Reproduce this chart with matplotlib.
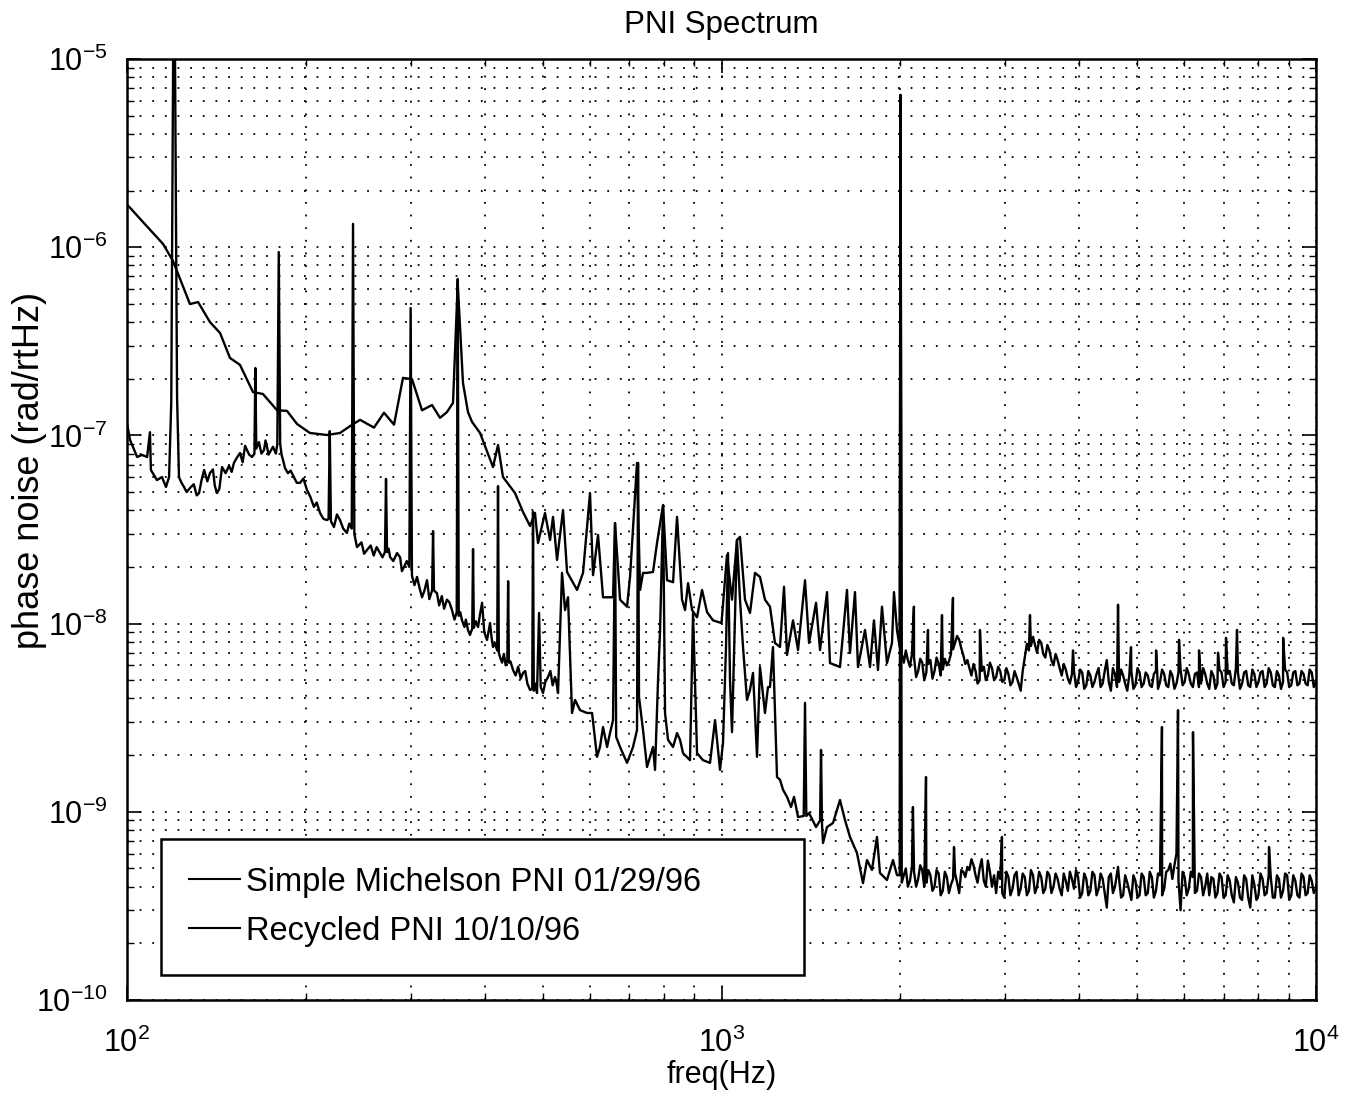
import numpy as np
import matplotlib
matplotlib.use("Agg")
import matplotlib.pyplot as plt
from matplotlib.ticker import FixedLocator, LogFormatterSciNotation, NullFormatter

# ---------------- data (frequency in Hz, phase noise in rad/rtHz) ----------------
title_text = "PNI Spectrum"
x_label = "freq(Hz)"
y_label = "phase noise (rad/rtHz)"
legend_labels = ["Simple Michelson PNI 01/29/96", "Recycled PNI 10/10/96"]
x_decades = [1e2, 1e3, 1e4]
y_decades = [1e-10, 1e-9, 1e-8, 1e-7, 1e-6, 1e-5]

# Simple Michelson PNI 01/29/96 : 100 Hz - 1 kHz
michelson_low = [
    (100, 1.68e-6), (101.2, 1.62e-6), (106.4, 1.36e-6), (115.0, 1.04e-6), (119.5, 8.45e-7),
    (127.6, 4.99e-7), (131.7, 5.11e-7), (137.9, 4.0e-7), (143.4, 3.5e-7), (149.0, 2.58e-7),
    (154.9, 2.37e-7), (162.9, 1.70e-7), (169.3, 1.66e-7), (178.8, 1.36e-7), (185.8, 1.35e-7),
    (193.2, 1.15e-7), (203.1, 1.03e-7), (217.0, 1.005e-7), (228.2, 1.03e-7), (237.2, 1.12e-7),
    (246.6, 1.21e-7), (260.3, 1.10e-7), (270.6, 1.32e-7), (281.3, 1.14e-7), (291.2, 2.02e-7),
    (301.6, 1.99e-7), (313.5, 1.36e-7), (325.9, 1.45e-7), (336.1, 1.24e-7), (345.3, 1.33e-7),
    (353.5, 1.49e-7), (360.0, 6.45e-7), (367.4, 1.90e-7), (374.6, 1.33e-7), (380.5, 1.18e-7),
    (392.5, 1.03e-7), (412.7, 6.79e-8), (420.8, 8.89e-8), (429.0, 6.01e-8), (449.4, 4.94e-8),
    (463.6, 3.92e-8), (476.4, 3.30e-8), (485.6, 3.87e-8), (491.3, 2.68e-8), (504.8, 3.87e-8),
    (514.8, 2.78e-8), (520.7, 3.69e-8), (528.9, 2.18e-8), (541.3, 4.01e-8), (549.8, 1.88e-8),
    (571.5, 1.51e-8), (584.9, 1.86e-8), (600.9, 4.94e-8), (608.0, 1.81e-8), (619.9, 2.96e-8),
    (632.0, 1.38e-8), (657.0, 1.38e-8), (662.1, 3.42e-8), (675.1, 1.34e-8), (693.6, 1.23e-8),
    (701.7, 1.77e-8), (720.9, 7.14e-8), (729.5, 1.51e-8), (737.9, 1.86e-8), (749.4, 1.86e-8),
    (767.0, 1.88e-8), (779.0, 2.68e-8), (797.4, 4.27e-8), (809.8, 1.70e-8), (828.9, 1.66e-8),
    (841.8, 3.69e-8), (858.3, 1.34e-8), (868.3, 1.18e-8), (878.5, 1.64e-8), (892.2, 1.18e-8),
    (909.6, 1.08e-8), (927.4, 1.51e-8), (945.6, 1.15e-8), (967.8, 1.04e-8),
]

# Simple Michelson : 1 kHz - 2 kHz
michelson_mid = [
    (1000, 1.007e-8), (1021.5, 2.31e-8), (1041.5, 1.34e-8), (1061.8, 2.78e-8), (1074.3, 2.89e-8),
    (1095.3, 1.34e-8), (1116.7, 1.14e-8), (1138.5, 1.86e-8), (1160.8, 1.77e-8), (1183.4, 1.34e-8),
    (1206.6, 1.23e-8), (1230.3, 7.89e-9), (1254.3, 7.51e-9), (1274.0, 1.57e-8), (1288.9, 6.81e-9),
    (1319.2, 1.04e-8), (1345.0, 7.24e-9), (1381.9, 1.70e-8), (1403.5, 7.89e-9), (1442.1, 1.29e-8),
    (1464.6, 7.24e-9), (1504.9, 1.47e-8), (1522.3, 6.17e-9), (1582.4, 5.88e-9), (1625.8, 1.51e-8),
    (1644.8, 6.98e-9), (1677.0, 1.47e-8), (1696.6, 5.88e-9), (1743.2, 9.25e-9), (1777.4, 5.88e-9),
    (1805.0, 1.04e-8), (1833.2, 5.67e-9), (1861.8, 1.23e-8), (1898.2, 6.17e-9), (1935.4, 7.89e-9),
    (1950.4, 1.47e-8), (1973.2, 9.25e-9), (1994.0, 7.5e-9),
]

# frequency grids of the high-frequency noise floor (2 kHz - 10 kHz)
floor_freq = [
    2010, 2042, 2075, 2108, 2142, 2176, 2211, 2246, 2282, 2319, 2356, 2394, 2432, 2471, 2511,
    2551, 2592, 2633, 2675, 2718, 2762, 2806, 2851, 2897, 2943, 2990, 3038, 3087, 3136, 3186,
    3237, 3289, 3342, 3395, 3450, 3505, 3561, 3618, 3676, 3735, 3794, 3855, 3917, 3979, 4043,
    4108, 4173, 4240, 4308, 4377, 4447, 4518, 4590, 4664, 4738, 4814, 4891, 4969, 5049, 5130,
    5212, 5295, 5380, 5466, 5554, 5643, 5733, 5825, 5918, 6013, 6109, 6207, 6306, 6407, 6510,
    6614, 6720, 6827, 6936, 7047, 7160, 7275, 7391, 7510, 7630, 7752, 7876, 8002, 8130, 8260,
    8393, 8527, 8663, 8802, 8943, 9086, 9231, 9379, 9529, 9681, 9836, 9994,
]
floor_freq_b = [
    2026, 2058, 2091, 2125, 2159, 2193, 2228, 2264, 2300, 2337, 2375, 2413, 2452, 2491, 2531,
    2571, 2612, 2654, 2696, 2740, 2784, 2828, 2874, 2920, 2966, 3014, 3062, 3111, 3161, 3211,
    3263, 3315, 3368, 3422, 3477, 3533, 3589, 3647, 3705, 3764, 3825, 3886, 3948, 4011, 4075,
    4140, 4206, 4274, 4342, 4412, 4482, 4554, 4627, 4701, 4776, 4852, 4930, 5009, 5089, 5171,
    5253, 5337, 5423, 5510, 5598, 5688, 5779, 5871, 5965, 6061, 6158, 6256, 6356, 6458, 6562,
    6667, 6773, 6881, 6991, 7103, 7217, 7333, 7450, 7570, 7691, 7814, 7939, 8066, 8195, 8326,
    8460, 8595, 8732, 8872, 9014, 9158, 9305, 9454, 9605, 9758, 9915,
]
michelson_floor = [
    6.9e-9, 7.2e-9, 5.9e-9, 6.6e-9, 5.6e-9, 6.2e-9, 5.5e-9, 6.4e-9, 5.6e-9, 6.1e-9, 5.7e-9, 6.0e-9,
    6.9e-9, 7.9e-9, 8.2e-9, 6.8e-9, 6.4e-9, 5.3e-9, 5.6e-9, 5.0e-9, 5.9e-9, 5.3e-9, 5.8e-9, 5.2e-9,
    5.6e-9, 5.0e-9, 5.4e-9, 4.9e-9, 5.2e-9, 4.4e-9, 6.6e-9, 7.2e-9, 8.5e-9, 7.0e-9, 7.9e-9, 6.6e-9,
    7.2e-9, 6.0e-9, 6.4e-9, 5.3e-9, 5.7e-9, 4.8e-9, 5.6e-9, 4.9e-9, 5.5e-9, 4.7e-9, 5.3e-9, 4.9e-9,
    5.8e-9, 4.8e-9, 6.4e-9, 4.4e-9, 5.4e-9, 4.9e-9, 5.3e-9, 4.4e-9, 5.6e-9, 4.7e-9, 5.5e-9, 4.8e-9,
    5.3e-9, 4.6e-9, 5.6e-9, 4.9e-9, 5.4e-9, 4.6e-9, 5.3e-9, 4.8e-9, 5.7e-9, 4.9e-9, 5.4e-9, 4.6e-9,
    5.5e-9, 4.8e-9, 5.4e-9, 4.5e-9, 5.3e-9, 4.8e-9, 5.5e-9, 4.9e-9, 5.6e-9, 4.7e-9, 5.5e-9, 4.8e-9,
    5.6e-9, 4.6e-9, 5.4e-9, 4.9e-9, 5.6e-9, 4.8e-9, 5.5e-9, 4.6e-9, 5.3e-9, 4.9e-9, 5.5e-9, 4.7e-9,
    5.6e-9, 4.8e-9, 5.4e-9, 4.7e-9, 5.5e-9, 4.9e-9,
]
michelson_floor_b = [
    6.2e-9, 6.4e-9, 6.9e-9, 5.2e-9, 6.5e-9, 5.0e-9, 6.1e-9, 5.1e-9, 6.6e-9, 5.3e-9, 6.5e-9, 6.3e-9,
    7.3e-9, 8.6e-9, 7.4e-9, 6.1e-9, 5.8e-9, 6.1e-9, 4.8e-9, 5.6e-9, 5.0e-9, 6.2e-9, 5.0e-9, 5.9e-9,
    4.9e-9, 5.8e-9, 4.7e-9, 5.6e-9, 4.8e-9, 5.6e-9, 7.8e-9, 7.6e-9, 7.7e-9, 8.2e-9, 6.9e-9, 7.7e-9,
    6.4e-9, 6.9e-9, 5.8e-9, 6.1e-9, 5.1e-9, 5.4e-9, 4.6e-9, 5.7e-9, 4.5e-9, 5.6e-9, 4.6e-9, 5.4e-9,
    4.6e-9, 5.6e-9, 4.9e-9, 5.8e-9, 4.6e-9, 5.7e-9, 4.8e-9, 5.3e-9, 4.5e-9, 5.8e-9, 4.6e-9, 5.5e-9,
    4.7e-9, 5.4e-9, 4.5e-9, 5.7e-9, 4.7e-9, 5.6e-9, 4.5e-9, 5.5e-9, 4.7e-9, 5.8e-9, 4.8e-9, 5.4e-9,
    4.6e-9, 5.8e-9, 4.8e-9, 5.6e-9, 4.5e-9, 5.7e-9, 4.6e-9, 5.4e-9, 4.8e-9, 5.8e-9, 4.5e-9, 5.5e-9,
    4.7e-9, 5.7e-9, 4.6e-9, 5.5e-9, 4.6e-9, 5.8e-9, 4.7e-9, 5.6e-9, 4.5e-9, 5.7e-9, 4.6e-9, 5.5e-9,
    4.7e-9, 5.6e-9, 4.8e-9, 5.7e-9, 4.6e-9,
]
michelson_lines = [
    (2000, 6.44e-6), (2107, 1.23e-8), (2225, 9.25e-9), (2349, 1.11e-8), (2451, 1.37e-8),
    (2721, 9.25e-9), (3303, 1.11e-8), (3902, 7.2e-9), (4645, 1.26e-8), (4885, 7.5e-9),
    (5383, 7.2e-9), (5883, 8.2e-9), (6357, 7.2e-9), (6842, 7.0e-9), (7057, 8.4e-9),
    (7364, 9.25e-9), (8805, 8.4e-9),
]

# Recycled PNI 10/10/96 : 100 Hz - 300 Hz
recycled_low = [
    (100, 1.16e-7), (101.2, 9.45e-8), (104.0, 7.68e-8), (106.0, 7.87e-8), (108.1, 7.68e-8),
    (109.3, 1.04e-7), (109.7, 6.55e-8), (112.3, 5.79e-8), (114.5, 6.01e-8), (116.3, 5.32e-8),
    (117.7, 6.01e-8), (118.7, 1.5e-7), (119.6, 1.2e-5), (120.4, 1.2e-5), (121.4, 1.6e-7),
    (122.3, 6.01e-8), (124.7, 5.32e-8), (127.6, 5.25e-8), (132.2, 4.94e-8), (134.8, 6.55e-8),
    (137.9, 6.31e-8), (141.7, 4.94e-8), (144.5, 6.79e-8), (151.3, 7.14e-8), (154.9, 8.06e-8),
    (159.2, 8.36e-8), (162.3, 7.68e-8), (163.8, 8.0e-8), (164.4, 2.28e-7), (165.0, 8.5e-8),
    (166.7, 9.22e-8), (170.0, 8.36e-8), (172.0, 8.68e-8), (174.0, 8.16e-8), (178.0, 8.0e-8),
    (179.0, 9.0e-8), (180.0, 9.43e-7), (181.0, 9.0e-8), (182.0, 7.87e-8), (184.4, 6.71e-8),
    (190.9, 6.01e-8), (195.4, 5.59e-8), (200.8, 5.13e-8), (206.3, 4.17e-8), (211.2, 3.87e-8),
    (217.0, 3.55e-8), (218.3, 3.6e-8), (219.3, 1.055e-7), (220.3, 3.5e-8), (222.9, 3.26e-8),
    (228.2, 3.55e-8), (234.4, 3.03e-8), (238.8, 3.2e-8), (240.0, 1.33e-6), (241.2, 3.0e-8),
    (243.7, 2.55e-8), (253.3, 2.46e-8), (266.5, 2.37e-8), (271.6, 2.4e-8), (272.7, 5.87e-8),
    (273.8, 2.4e-8), (277.0, 2.26e-8), (284.6, 2.37e-8), (292.4, 2.00e-8), (298.5, 2.0e-8),
    (300.0, 4.75e-7), (301.5, 1.8e-8),
]
# fine ripple of the recycled trace between the lines, 120 Hz - 560 Hz
recycled_ripple = [
    (123.5, 5.6e-8), (126.0, 5.0e-8), (129.5, 5.5e-8), (131.0, 4.8e-8), (133.5, 5.8e-8),
    (136.5, 5.7e-8), (139.5, 6.6e-8), (140.5, 5.4e-8), (143.0, 5.2e-8), (146.5, 6.3e-8),
    (148.5, 6.9e-8), (150.0, 6.4e-8), (153.0, 7.6e-8), (156.5, 7.2e-8), (158.0, 8.8e-8),
    (160.5, 7.9e-8), (168.3, 8.0e-8), (171.0, 9.4e-8), (173.0, 7.9e-8), (176.0, 8.7e-8),
    (183.2, 7.3e-8), (186.5, 6.3e-8), (188.5, 6.5e-8), (193.0, 5.6e-8), (198.0, 5.9e-8),
    (203.5, 4.7e-8), (208.5, 4.4e-8), (214.0, 3.6e-8), (225.5, 3.8e-8), (231.0, 3.2e-8),
    (236.5, 3.4e-8), (248.0, 2.7e-8), (250.5, 2.35e-8), (257.0, 2.6e-8), (260.0, 2.3e-8),
    (263.0, 2.55e-8), (269.0, 2.25e-8), (275.5, 2.5e-8), (280.5, 2.15e-8), (288.0, 2.25e-8),
    (290.0, 1.9e-8), (295.5, 2.15e-8), (304.5, 1.6e-8), (310.5, 1.55e-8), (316.5, 1.5e-8),
    (322.5, 1.35e-8), (335.0, 1.25e-8), (338.5, 1.4e-8), (341.5, 1.2e-8), (348.5, 1.3e-8),
    (355.5, 1.05e-8), (363.5, 1.15e-8), (369.5, 9.6e-9), (371.5, 1.05e-8), (377.5, 8.7e-9),
    (386.0, 1.03e-8), (392.5, 1.12e-8), (399.0, 9.0e-9), (405.5, 9.0e-9), (410.5, 8.4e-9),
    (415.5, 7.9e-9), (427.5, 6.2e-9), (430.5, 6.9e-9), (433.5, 6.0e-9), (441.5, 6.3e-9),
    (450.5, 5.3e-9), (455.0, 5.9e-9), (459.5, 5.1e-9), (467.5, 5.6e-9), (471.5, 4.8e-9),
    (486.5, 4.8e-9), (496.5, 4.6e-9), (505.5, 4.9e-9), (515.5, 5.6e-9), (520.0, 4.7e-9),
    (527.5, 4.9e-9),
]

# Recycled : 300 Hz - 1.2 kHz
recycled_mid = [
    (307.5, 1.77e-8), (313.5, 1.38e-8), (319.6, 1.70e-8), (326.0, 1.5e-8), (327.2, 3.10e-8),
    (328.4, 1.5e-8), (332.2, 1.45e-8), (345.3, 1.34e-8), (352.1, 1.18e-8), (358.6, 1.15e-8),
    (360.0, 6.78e-7), (361.4, 1.1e-8), (366.0, 1.04e-8), (374.6, 9.25e-9), (380.8, 9.4e-9),
    (382.0, 2.49e-8), (383.2, 9.5e-9), (389.5, 9.59e-9), (395.6, 1.29e-8), (403.2, 8.18e-9),
    (408.0, 1.007e-8), (412.7, 7.51e-9), (419.5, 7.2e-9), (420.8, 5.38e-8), (422.1, 7.0e-9),
    (424.1, 6.64e-9), (436.3, 6.4e-9), (437.6, 1.68e-8), (438.9, 6.2e-9), (446.0, 5.67e-9),
    (463.6, 5.47e-9), (476.4, 4.44e-9), (480.5, 4.5e-9), (481.9, 3.92e-8), (483.3, 4.4e-9),
    (489.4, 4.28e-9), (493.3, 1.14e-8), (500.9, 4.28e-9), (510.7, 5.20e-9), (524.8, 5.20e-9),
    (530.9, 4.28e-9), (539.2, 1.86e-8), (545.5, 1.18e-8), (551.9, 1.38e-8), (560.5, 3.35e-9),
    (567.1, 3.93e-9), (578.1, 3.47e-9), (594.0, 3.35e-9), (605.7, 3.35e-9), (617.5, 1.96e-9),
    (624.6, 2.21e-9), (632.0, 2.82e-9), (642.0, 2.21e-9), (649.3, 2.62e-9), (657.0, 3.07e-9),
    (662.1, 3.42e-8), (665.0, 2.5e-9), (675.1, 2.21e-9), (693.6, 1.82e-9), (709.9, 2.21e-9),
    (720.9, 2.72e-9), (723.8, 7.14e-8), (726.5, 4.07e-9), (737.9, 2.72e-9), (749.4, 1.73e-9),
    (767.0, 2.21e-9), (773.0, 1.67e-9), (782.1, 5.01e-9), (788.3, 9.25e-9), (797.4, 4.17e-8),
    (803.6, 3.35e-9), (813.0, 2.41e-9), (828.9, 2.21e-9), (841.8, 2.62e-9), (851.7, 2.41e-9),
    (861.6, 2.05e-9), (885.2, 1.88e-9), (895.6, 1.14e-8), (909.6, 2.05e-9), (931.0, 1.88e-9),
    (956.5, 1.82e-9), (975.3, 3.07e-9), (994.3, 1.67e-9), (1005.8, 2.32e-9), (1017.6, 7.51e-9),
    (1025.5, 2.37e-8), (1033.5, 5.01e-9), (1041.5, 2.65e-9), (1061.8, 2.78e-8), (1074.3, 1.34e-8),
    (1086.9, 7.51e-9), (1103.7, 3.93e-9), (1116.7, 4.44e-9), (1129.7, 5.47e-9), (1138.5, 3.35e-9),
    (1147.4, 1.96e-9), (1160.8, 5.88e-9), (1183.4, 3.35e-9), (1197.2, 4.60e-9), (1206.6, 4.60e-9),
    (1220.6, 7.51e-9),
]

# Recycled : 1.2 kHz - 2 kHz
recycled_knee = [
    (1239.9, 1.53e-9), (1254.3, 1.48e-9), (1269.1, 1.31e-9), (1288.9, 1.20e-9), (1309.0, 1.06e-9),
    (1324.3, 1.20e-9), (1345.0, 9.38e-10), (1375.0, 9.5e-10), (1381.9, 3.79e-9), (1389.0, 9.5e-10),
    (1403.5, 9.85e-10), (1442.1, 8.30e-10), (1465.0, 9.0e-10), (1470.3, 2.13e-9), (1476.0, 8.5e-10),
    (1481.7, 6.83e-10), (1504.9, 8.30e-10), (1540.2, 8.72e-10), (1582.4, 1.155e-9), (1613.3, 9.04e-10),
    (1644.8, 7.35e-10), (1690.0, 6.04e-10), (1729.8, 4.18e-10), (1756.8, 5.54e-10), (1791.1, 4.91e-10),
    (1826.1, 7.35e-10), (1847.5, 4.73e-10), (1898.2, 4.34e-10), (1942.9, 5.54e-10), (1973.2, 4.61e-10),
    (1994.0, 4.6e-10),
]
recycled_floor = [
    4.2e-10, 5.0e-10, 4.3e-10, 4.8e-10, 4.4e-10, 4.9e-10, 4.2e-10, 4.6e-10, 4.0e-10, 4.7e-10,
    3.8e-10, 4.5e-10, 4.1e-10, 4.7e-10, 3.7e-10, 4.8e-10, 5.1e-10, 5.6e-10, 4.6e-10, 5.0e-10,
    4.3e-10, 5.5e-10, 4.0e-10, 3.7e-10, 4.4e-10, 3.5e-10, 4.5e-10, 3.9e-10, 4.8e-10, 3.9e-10,
    4.5e-10, 3.8e-10, 4.6e-10, 4.0e-10, 4.5e-10, 3.9e-10, 4.6e-10, 4.0e-10, 4.4e-10, 3.6e-10,
    4.3e-10, 4.8e-10, 3.9e-10, 4.5e-10, 3.7e-10, 4.4e-10, 3.8e-10, 4.6e-10, 3.9e-10, 4.4e-10,
    3.1e-10, 4.7e-10, 4.0e-10, 4.4e-10, 3.6e-10, 4.2e-10, 3.4e-10, 4.3e-10, 3.6e-10, 4.5e-10,
    3.7e-10, 4.5e-10, 3.8e-10, 4.6e-10, 3.9e-10, 4.9e-10, 4.4e-10, 6.0e-10, 3.0e-10, 4.5e-10,
    3.9e-10, 4.5e-10, 3.8e-10, 4.5e-10, 4.0e-10, 3.6e-10, 4.4e-10, 3.7e-10, 4.5e-10, 3.6e-10,
    4.3e-10, 3.3e-10, 4.2e-10, 3.4e-10, 4.4e-10, 3.1e-10, 4.1e-10, 3.6e-10, 4.4e-10, 3.7e-10,
    4.5e-10, 3.5e-10, 4.4e-10, 3.8e-10, 4.6e-10, 3.6e-10, 4.3e-10, 3.5e-10, 4.5e-10, 3.7e-10,
    4.3e-10, 3.9e-10,
]
recycled_floor_b = [
    4.6e-10, 4.0e-10, 5.1e-10, 4.0e-10, 5.2e-10, 4.0e-10, 4.9e-10, 3.8e-10, 4.9e-10, 3.6e-10,
    4.8e-10, 3.7e-10, 4.4e-10, 4.2e-10, 4.9e-10, 4.5e-10, 4.9e-10, 5.2e-10, 4.2e-10, 5.6e-10,
    4.0e-10, 4.8e-10, 4.6e-10, 4.8e-10, 3.7e-10, 4.8e-10, 3.6e-10, 4.6e-10, 3.6e-10, 4.7e-10,
    3.6e-10, 4.9e-10, 3.7e-10, 4.8e-10, 3.7e-10, 4.8e-10, 3.7e-10, 4.7e-10, 3.9e-10, 4.7e-10,
    3.8e-10, 4.4e-10, 4.9e-10, 3.5e-10, 4.7e-10, 3.6e-10, 4.8e-10, 3.6e-10, 4.7e-10, 3.7e-10,
    4.5e-10, 3.7e-10, 4.7e-10, 3.5e-10, 4.6e-10, 3.8e-10, 4.6e-10, 3.5e-10, 4.7e-10, 3.6e-10,
    4.8e-10, 3.5e-10, 4.7e-10, 3.6e-10, 4.8e-10, 5.3e-10, 5.2e-10, 4.3e-10, 4.8e-10, 3.6e-10,
    4.8e-10, 3.7e-10, 4.7e-10, 3.6e-10, 4.7e-10, 4.5e-10, 3.5e-10, 4.7e-10, 3.5e-10, 4.6e-10,
    3.6e-10, 4.5e-10, 3.5e-10, 4.6e-10, 3.5e-10, 4.6e-10, 3.4e-10, 4.7e-10, 3.6e-10, 4.6e-10,
    3.5e-10, 4.6e-10, 3.5e-10, 4.7e-10, 3.4e-10, 4.6e-10, 3.6e-10, 4.7e-10, 3.6e-10, 4.6e-10,
    3.7e-10,
]
recycled_lines = [
    (2000, 6.44e-6), (2099, 1.06e-9), (2208, 1.53e-9), (2461, 6.5e-10), (2963, 7.35e-10),
    (4645, 5.1e-10), (5507, 2.82e-9), (5860, 3.47e-9), (6210, 2.65e-9), (8336, 6.5e-10),
]


def assemble(*parts):
    pts = sorted(p for part in parts for p in part)
    f, v = zip(*pts)
    return np.array(f, dtype=float), np.array(v, dtype=float)


f_mich, v_mich = assemble(michelson_low, michelson_mid,
                          list(zip(floor_freq, michelson_floor)),
                          list(zip(floor_freq_b, michelson_floor_b)), michelson_lines)
f_rec, v_rec = assemble(recycled_low, recycled_ripple, recycled_mid, recycled_knee,
                        list(zip(floor_freq, recycled_floor)),
                        list(zip(floor_freq_b, recycled_floor_b)), recycled_lines)

# ---------------- figure ----------------
plt.rcParams["font.family"] = ["Liberation Sans", "DejaVu Sans"]
plt.rcParams["mathtext.fontset"] = "custom"
plt.rcParams["mathtext.rm"] = "Liberation Sans"
plt.rcParams["axes.unicode_minus"] = False

W, H = 1351, 1095
fig = plt.figure(figsize=(W / 100, H / 100), dpi=100)
ax = fig.add_axes([127 / W, 1 - 1000 / H, (1316 - 127) / W, (1000 - 59) / H])

ax.plot(f_mich, v_mich, color="black", lw=1.7, label=legend_labels[0])
ax.plot(f_rec, v_rec, color="black", lw=1.7, label=legend_labels[1])

ax.set_xscale("log")
ax.set_yscale("log")
ax.set_xlim(x_decades[0], x_decades[-1])
ax.set_ylim(y_decades[0], y_decades[-1])

x_minor = [d * k for d in x_decades[:-1] for k in range(2, 10)]
y_minor = [d * k for d in y_decades[:-1] for k in range(2, 10)]
ax.xaxis.set_major_locator(FixedLocator(x_decades))
ax.yaxis.set_major_locator(FixedLocator(y_decades))
ax.xaxis.set_minor_locator(FixedLocator(x_minor))
ax.yaxis.set_minor_locator(FixedLocator(y_minor))
ax.xaxis.set_major_formatter(LogFormatterSciNotation())
ax.yaxis.set_major_formatter(LogFormatterSciNotation())
ax.xaxis.set_minor_formatter(NullFormatter())
ax.yaxis.set_minor_formatter(NullFormatter())

ax.grid(True, which="both", color="black", linestyle=(0, (1, 6)), linewidth=1.3)
ax.tick_params(which="both", direction="in", top=True, right=True, colors="black")
ax.tick_params(which="major", length=10, width=1.2, labelsize=22)
ax.tick_params(which="minor", length=5, width=1.0)
ax.tick_params(axis="x", which="major", pad=20)
ax.tick_params(axis="y", which="major", pad=14)
for s in ax.spines.values():
    s.set_linewidth(1.8)

ax.set_title(title_text, fontsize=22.5, pad=19)
ax.set_xlabel(x_label, fontsize=22, labelpad=1)
ax.set_ylabel(y_label, fontsize=26)
ax.yaxis.set_label_coords(-0.0675, 0.563)

leg = ax.legend(loc="lower left", bbox_to_anchor=(0.029, 0.027, 0.54, 0.143), mode="expand",
                fontsize=23.5, frameon=True, fancybox=False, borderpad=0.85, labelspacing=0.55,
                handlelength=1.55, handletextpad=0.2, borderaxespad=0)
leg.get_frame().set_edgecolor("black")
leg.get_frame().set_linewidth(1.8)
leg.get_frame().set_alpha(1)
for line in leg.get_lines():
    line.set_linewidth(1.5)

fig.savefig("out.png", dpi=100)
